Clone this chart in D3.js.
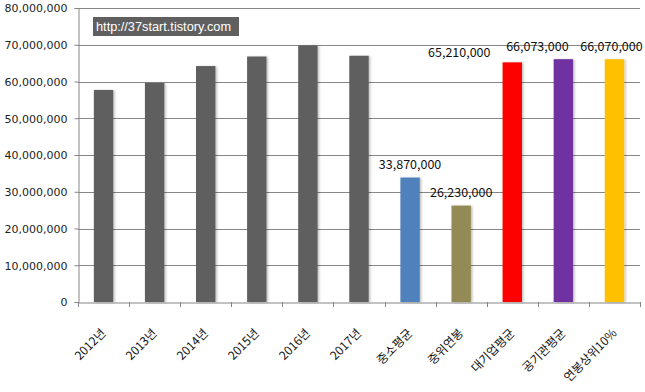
<!DOCTYPE html>
<html><head><meta charset="utf-8">
<script src="https://cdn.jsdelivr.net/npm/d3@7"></script>
<style>body{margin:0;background:#fff}svg{display:block}</style>
</head><body>
<svg id="c" width="645" height="392"></svg>
<script>
const categories = ["2012년","2013년","2014년","2015년","2016년","2017년","중소평균","중위연봉","대기업평균","공기관평균","연봉상위10%"];
const values = [57700000,59600000,64200000,66800000,69800000,67000000,33870000,26230000,65210000,66073000,66070000];
const barColors = ["#5f5f5f","#5f5f5f","#5f5f5f","#5f5f5f","#5f5f5f","#5f5f5f","#4f81bd","#948a54","#ff0000","#7030a0","#ffc000"];
const labeled = [6,7,8,9,10];
const yTicks = [0,10000000,20000000,30000000,40000000,50000000,60000000,70000000,80000000];
const watermark = "http://37start.tistory.com";

const svg = d3.select("#c");
const L=78,R=640,T=8,B=302;
const x = d3.scaleBand().domain(categories).range([L,R]).paddingInner(0.62).paddingOuter(0.31);
const y = d3.scaleLinear().domain([0,80000000]).range([B,T]);
const fmt = d3.format(",");
const font = "'Noto Sans CJK KR','Noto Sans',sans-serif";

const defs = svg.append("defs");
const f = defs.append("filter").attr("id","sh").attr("x","-30%").attr("y","-5%").attr("width","160%").attr("height","110%");
f.append("feDropShadow").attr("dx",1.5).attr("dy",0.5).attr("stdDeviation",1.2).attr("flood-color","#000").attr("flood-opacity",0.25);

// gridlines
svg.append("g").selectAll("line").data(yTicks.slice(1)).join("line")
  .attr("x1",L).attr("x2",R).attr("y1",d=>Math.round(y(d))+0.5).attr("y2",d=>Math.round(y(d))+0.5)
  .attr("stroke","#868686").attr("stroke-width",1);

// y axis
const ya = svg.append("g").attr("transform",`translate(${L+0.5},0)`)
  .call(d3.axisLeft(y).tickValues(yTicks).tickFormat(d=>fmt(d)).tickSize(4).tickPadding(7));
ya.select(".domain").attr("stroke","#868686");
ya.selectAll(".tick line").attr("stroke","#868686");
ya.selectAll("text").attr("font-family","'DejaVu Sans',sans-serif").attr("font-size",11).attr("fill","#222").attr("dy","0.36em");

// bars
svg.append("g").selectAll("rect").data(values).join("rect")
  .attr("x",(d,i)=>x(categories[i])).attr("width",x.bandwidth())
  .attr("y",d=>y(d)).attr("height",d=>B-y(d))
  .attr("fill",(d,i)=>barColors[i]).attr("filter","url(#sh)");

// x axis
const xa = svg.append("g").attr("transform",`translate(0,${B+0.5})`)
  .call(d3.axisBottom(x).tickSize(0).tickPadding(0));
xa.select(".domain").attr("stroke","#868686");
xa.selectAll(".tick text").remove();
const step = x.step();
svg.append("g").selectAll("line").data(d3.range(categories.length+1)).join("line")
  .attr("x1",i=>Math.round(L+i*step)+0.5).attr("x2",i=>Math.round(L+i*step)+0.5)
  .attr("y1",B).attr("y2",B+5).attr("stroke","#868686");
svg.append("g").selectAll("text").data(categories).join("text")
  .attr("transform",d=>`translate(${x(d)+x.bandwidth()/2+3},${B+32}) rotate(-45)`)
  .attr("text-anchor","end").attr("font-family",font).attr("font-size",12).attr("fill","#111")
  .text(d=>d);

// value labels
const dxs = {6:0,7:0,8:-53,9:-26,10:-3};
const dys = {6:-9,7:-9,8:-5,9:-8,10:-8};
svg.append("g").selectAll("text").data(labeled).join("text")
  .attr("x",i=>x(categories[i])+x.bandwidth()/2+dxs[i])
  .attr("y",i=>y(values[i])+dys[i])
  .attr("text-anchor","middle").attr("font-family",font).attr("font-size",12.5).attr("fill","#111")
  .text(i=>fmt(values[i]));

// watermark
svg.append("rect").attr("x",93).attr("y",17).attr("width",146).attr("height",19).attr("fill","#5f5f5f");
svg.append("text").attr("x",96).attr("y",31).attr("font-family","'Liberation Sans',sans-serif").attr("font-size",12.5)
  .attr("textLength",135).attr("lengthAdjust","spacingAndGlyphs").attr("fill","#fff").text(watermark);
</script>
</body></html>
